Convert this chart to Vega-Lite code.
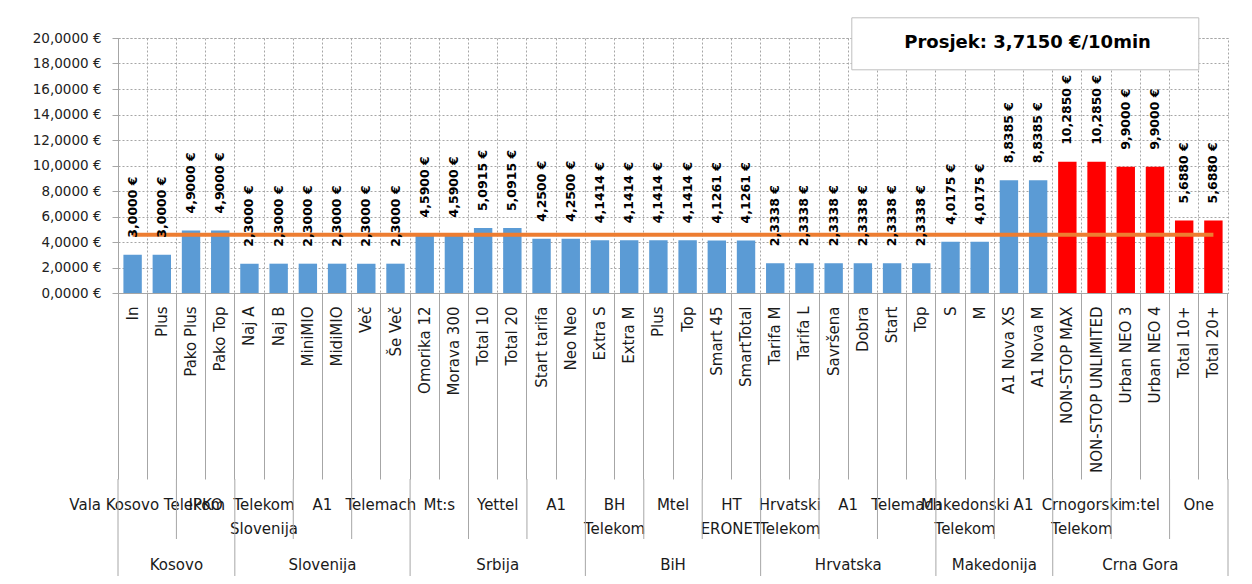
{
  "$schema": "https://vega.github.io/schema/vega-lite/v6.json",
  "background": "white",
  "padding": {"left": 31, "top": 16, "right": 5, "bottom": 4},
  "config": {
    "locale": {"number": {"decimal": ",", "thousands": ".", "grouping": [3], "currency": ["", " €"]}},
    "font": "DejaVu Sans",
    "view": {"stroke": null},
    "axisY": {
      "values": [0, 2, 4, 6, 8, 10, 12, 14, 16, 18, 20],
      "format": "$.4f",
      "labelOverlap": false, "labelBound": false, "labelFlush": false,
      "labelFont": "DejaVu Sans", "labelFontSize": 13.5, "labelColor": "#222222",
      "labelPadding": 11, "tickSize": 6, "tickColor": "#A6A6A6",
      "domainColor": "#A6A6A6",
      "grid": true, "gridDash": [2, 2], "gridColor": "#A6A6A6"
    }
  },
  "datasets": {
    "plans": [
      {"country": "Kosovo", "operator": "Vala Kosovo Telekom", "plan": "In", "value": 3.0},
      {"country": "Kosovo", "operator": "Vala Kosovo Telekom", "plan": "Plus", "value": 3.0},
      {"country": "Kosovo", "operator": "IPKO", "plan": "Pako Plus", "value": 4.9},
      {"country": "Kosovo", "operator": "IPKO", "plan": "Pako Top", "value": 4.9},
      {"country": "Slovenija", "operator": "Telekom Slovenija", "plan": "Naj A", "value": 2.3},
      {"country": "Slovenija", "operator": "Telekom Slovenija", "plan": "Naj B", "value": 2.3},
      {"country": "Slovenija", "operator": "A1", "plan": "MiniMIO", "value": 2.3},
      {"country": "Slovenija", "operator": "A1", "plan": "MidiMIO", "value": 2.3},
      {"country": "Slovenija", "operator": "Telemach", "plan": "Več", "value": 2.3},
      {"country": "Slovenija", "operator": "Telemach", "plan": "Še Več", "value": 2.3},
      {"country": "Srbija", "operator": "Mt:s", "plan": "Omorika 12", "value": 4.59},
      {"country": "Srbija", "operator": "Mt:s", "plan": "Morava 300", "value": 4.59},
      {"country": "Srbija", "operator": "Yettel", "plan": "Total 10", "value": 5.0915},
      {"country": "Srbija", "operator": "Yettel", "plan": "Total 20", "value": 5.0915},
      {"country": "Srbija", "operator": "A1", "plan": "Start tarifa", "value": 4.25},
      {"country": "Srbija", "operator": "A1", "plan": "Neo Neo", "value": 4.25},
      {"country": "BiH", "operator": "BH Telekom", "plan": "Extra S", "value": 4.1414},
      {"country": "BiH", "operator": "BH Telekom", "plan": "Extra M", "value": 4.1414},
      {"country": "BiH", "operator": "Mtel", "plan": "Plus", "value": 4.1414},
      {"country": "BiH", "operator": "Mtel", "plan": "Top", "value": 4.1414},
      {"country": "BiH", "operator": "HT ERONET", "plan": "Smart 45", "value": 4.1261},
      {"country": "BiH", "operator": "HT ERONET", "plan": "SmartTotal", "value": 4.1261},
      {"country": "Hrvatska", "operator": "Hrvatski Telekom", "plan": "Tarifa M", "value": 2.3338},
      {"country": "Hrvatska", "operator": "Hrvatski Telekom", "plan": "Tarifa L", "value": 2.3338},
      {"country": "Hrvatska", "operator": "A1", "plan": "Savršena", "value": 2.3338},
      {"country": "Hrvatska", "operator": "A1", "plan": "Dobra", "value": 2.3338},
      {"country": "Hrvatska", "operator": "Telemach", "plan": "Start", "value": 2.3338},
      {"country": "Hrvatska", "operator": "Telemach", "plan": "Top", "value": 2.3338},
      {"country": "Makedonija", "operator": "Makedonski Telekom", "plan": "S", "value": 4.0175},
      {"country": "Makedonija", "operator": "Makedonski Telekom", "plan": "M", "value": 4.0175},
      {"country": "Makedonija", "operator": "A1", "plan": "A1 Nova XS", "value": 8.8385},
      {"country": "Makedonija", "operator": "A1", "plan": "A1 Nova M", "value": 8.8385},
      {"country": "Crna Gora", "operator": "Crnogorski Telekom", "plan": "NON-STOP MAX", "value": 10.285},
      {"country": "Crna Gora", "operator": "Crnogorski Telekom", "plan": "NON-STOP UNLIMITED", "value": 10.285},
      {"country": "Crna Gora", "operator": "m:tel", "plan": "Urban NEO 3", "value": 9.9},
      {"country": "Crna Gora", "operator": "m:tel", "plan": "Urban NEO 4", "value": 9.9},
      {"country": "Crna Gora", "operator": "One", "plan": "Total 10+", "value": 5.688},
      {"country": "Crna Gora", "operator": "One", "plan": "Total 20+", "value": 5.688}
    ]
  },
  "bounds": "flush",
  "spacing": 186,
  "resolve": {"scale": {"x": "shared"}, "axis": {"x": "independent"}},
  "vconcat": [
    {
      "width": 1110,
      "height": 255,
      "data": {"name": "plans"},
      "transform": [
        {"calculate": "datum.country + '|' + datum.operator + '|' + datum.plan", "as": "id"},
        {"joinaggregate": [{"op": "mean", "field": "value", "as": "avg"}]}
      ],
      "view": {"stroke": "#A6A6A6", "strokeDash": [2, 2]},
      "resolve": {"axis": {"x": "independent"}},
      "layer": [
        {
          "mark": {"type": "bar", "width": {"band": 0.63}},
          "encoding": {
            "x": {
              "field": "id", "type": "nominal", "sort": null,
              "scale": {"type": "band", "paddingInner": 0, "paddingOuter": 0},
              "axis": {
                "orient": "bottom", "title": null,
                "labelExpr": "split(datum.value, '|')[2]",
                "labelAngle": 270, "labelPadding": 13,
                "labelFont": "DejaVu Sans", "labelFontSize": 15, "labelColor": "#1a1a1a",
                "labelLimit": 260, "labelOverlap": false,
                "ticks": false, "grid": false,
                "domain": true, "domainColor": "#A6A6A6", "domainWidth": 1
              }
            },
            "y": {
              "field": "value", "type": "quantitative", "title": null,
              "scale": {"domain": [0, 20], "nice": false},
              "axis": {"values": [0, 2, 4, 6, 8, 10, 12, 14, 16, 18, 20], "labelOverlap": false, "tickCount": 11}
            },
            "color": {"condition": {"test": "datum.country === 'Crna Gora'", "value": "#FF0000"}, "value": "#5B9BD5"}
          }
        },
        {
          "mark": {"type": "line", "strokeWidth": 4},
          "encoding": {
            "x": {
              "field": "id", "type": "nominal", "sort": null,
              "axis": {
                "orient": "bottom", "title": null, "bandPosition": 1,
                "values": ["Crna Gora|One|Total 20+"],
                "labels": false, "ticks": true, "tickSize": 186, "tickColor": "#A6A6A6",
                "domain": false, "grid": false
              }
            },
            "y": {
              "field": "avg", "type": "quantitative", "title": null,
              "axis": {"values": [0, 2, 4, 6, 8, 10, 12, 14, 16, 18, 20], "labelOverlap": false, "tickCount": 11}
            },
            "stroke": {
              "datum": "Prosjek: 3,7150 €/10min",
              "scale": {"range": ["#ED7D31"]},
              "legend": {
                "orient": "none", "legendX": 733.3, "legendY": -20.7,
                "title": "\u00a0", "titleOrient": "right", "titlePadding": 40,
                "titleFontSize": 18, "titleFont": "DejaVu Sans",
                "padding": 7, "fillColor": "#FFFFFF", "strokeColor": "#BFBFBF",
                "symbolType": "square", "symbolSize": 1444, "symbolOpacity": 0,
                "symbolStrokeWidth": 0, "symbolFillColor": "transparent",
                "labelOffset": 8, "labelFont": "DejaVu Sans", "labelFontWeight": "bold",
                "labelFontSize": 18, "labelColor": "#000000", "labelLimit": 400
              }
            }
          }
        },
        {
          "mark": {"type": "text", "angle": 270, "align": "left", "baseline": "middle", "dx": 17, "font": "DejaVu Sans", "fontWeight": "bold", "fontSize": 12.5, "fill": "#000000"},
          "encoding": {
            "x": {
              "field": "id", "type": "nominal", "sort": null,
              "axis": {
                "orient": "bottom", "title": null, "bandPosition": 0,
                "labels": false, "ticks": true, "tickSize": 186, "tickColor": "#A6A6A6",
                "domain": false, "grid": true, "gridDash": [2, 2], "gridColor": "#A6A6A6"
              }
            },
            "y": {
              "field": "value", "type": "quantitative", "title": null,
              "axis": {"values": [0, 2, 4, 6, 8, 10, 12, 14, 16, 18, 20], "labelOverlap": false, "tickCount": 11}
            },
            "text": {"field": "value", "type": "quantitative", "format": "$.4f"}
          }
        }
      ]
    },
    {
      "bounds": "flush",
      "spacing": 0,
      "resolve": {"scale": {"x": "shared"}, "axis": {"x": "independent"}},
      "vconcat": [
        {
          "width": 1110,
          "height": 60,
          "data": {"name": "plans"},
          "transform": [
            {"calculate": "datum.country + '|' + datum.operator + '|' + datum.plan", "as": "id"},
            {"window": [{"op": "row_number", "as": "rn"}], "groupby": ["country", "operator"]},
            {"joinaggregate": [{"op": "count", "as": "total"}]},
            {"window": [{"op": "row_number", "as": "idx"}]}
          ],
          "layer": [
            {
              "transform": [
                {"filter": "datum.rn === 1"},
                {"calculate": "datum.operator === 'Vala Kosovo Telekom' ? datum.operator : split(datum.operator, ' ')", "as": "lbl"}
              ],
              "mark": {"type": "text", "font": "DejaVu Sans", "fontSize": 15, "lineHeight": 24, "baseline": "alphabetic", "align": "center", "dy": 1, "fill": "#1a1a1a"},
              "encoding": {
                "x": {"field": "id", "type": "nominal", "sort": null, "bandPosition": 1, "axis": null},
                "text": {"field": "lbl", "type": "nominal"}
              }
            },
            {
              "transform": [{"filter": "datum.rn === 1"}],
              "mark": {"type": "rule", "color": "#A6A6A6", "strokeWidth": 1},
              "encoding": {
                "x": {"field": "id", "type": "nominal", "sort": null, "bandPosition": 0, "axis": null}
              }
            },
            {
              "transform": [{"filter": "datum.idx === datum.total"}],
              "mark": {"type": "rule", "color": "#A6A6A6", "strokeWidth": 1},
              "encoding": {
                "x": {"field": "id", "type": "nominal", "sort": null, "bandPosition": 1, "axis": null}
              }
            }
          ]
        },
        {
          "width": 1110,
          "height": 37,
          "data": {"name": "plans"},
          "transform": [
            {"calculate": "datum.country + '|' + datum.operator + '|' + datum.plan", "as": "id"},
            {"window": [{"op": "row_number", "as": "rn"}], "groupby": ["country"]},
            {"joinaggregate": [{"op": "count", "as": "n"}], "groupby": ["country"]},
            {"joinaggregate": [{"op": "count", "as": "total"}]},
            {"window": [{"op": "row_number", "as": "idx"}]}
          ],
          "layer": [
            {
              "transform": [{"filter": "datum.rn === datum.n / 2"}],
              "mark": {"type": "text", "font": "DejaVu Sans", "fontSize": 15, "baseline": "alphabetic", "align": "center", "dy": 12, "fill": "#1a1a1a"},
              "encoding": {
                "x": {"field": "id", "type": "nominal", "sort": null, "bandPosition": 1, "axis": null},
                "text": {"field": "country", "type": "nominal"}
              }
            },
            {
              "transform": [{"filter": "datum.rn === 1"}],
              "mark": {"type": "rule", "color": "#A6A6A6", "strokeWidth": 1},
              "encoding": {
                "x": {"field": "id", "type": "nominal", "sort": null, "bandPosition": 0, "axis": null}
              }
            },
            {
              "transform": [{"filter": "datum.idx === datum.total"}],
              "mark": {"type": "rule", "color": "#A6A6A6", "strokeWidth": 1},
              "encoding": {
                "x": {"field": "id", "type": "nominal", "sort": null, "bandPosition": 1, "axis": null}
              }
            }
          ]
        }
      ]
    }
  ]
}
